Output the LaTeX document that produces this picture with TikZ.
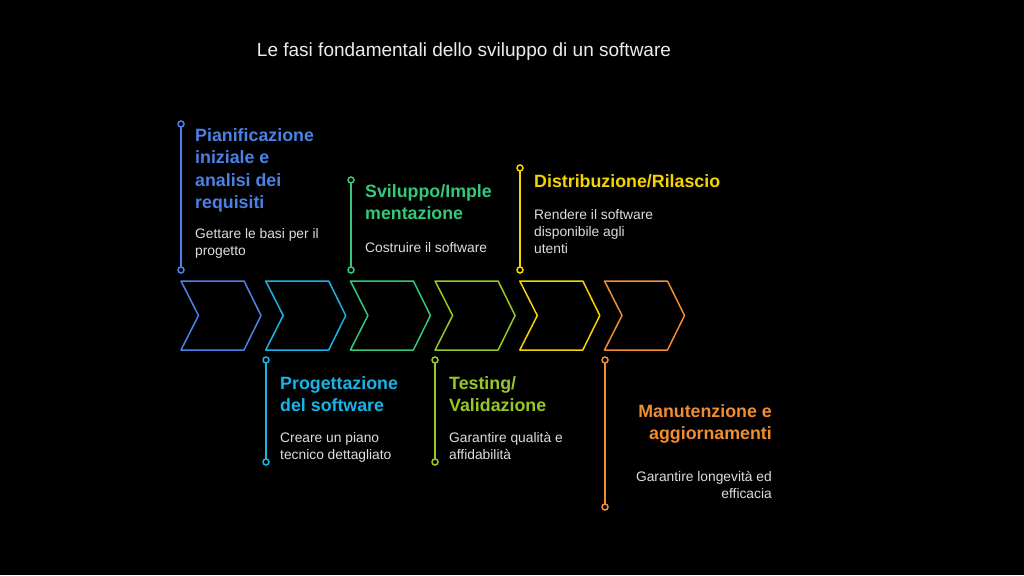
\documentclass[tikz,border=0pt]{standalone}
\usepackage{fontspec}
\setmainfont{Liberation Sans}

\definecolor{fblue}{RGB}{74,130,230}
\definecolor{fcyan}{RGB}{24,180,232}
\definecolor{fgreen}{RGB}{52,200,120}
\definecolor{flime}{RGB}{150,200,40}
\definecolor{fyellow}{RGB}{245,212,0}
\definecolor{forange}{RGB}{240,140,50}
\definecolor{descgray}{RGB}{222,222,222}
\definecolor{titlegray}{RGB}{236,236,236}

\tikzset{
  chev/.style={line width=1.5pt, line join=round},
  pinline/.style={line width=1.5pt},
  pinend/.style={line width=1.5pt, fill=black},
  head/.style={anchor=north west, inner sep=0pt, align=left,
    font=\fontsize{17.8}{22.5}\selectfont\bfseries},
  desc/.style={anchor=north west, inner sep=0pt, align=left, text=descgray,
    font=\fontsize{13.8}{17}\selectfont},
}

\begin{document}
\begin{tikzpicture}[x=1pt,y=-1pt]
  \fill[black] (0,0) rectangle (1024,575);
  \useasboundingbox (0,0) rectangle (1024,575);

  % title
  \node[font=\fontsize{19}{22}\selectfont, text=titlegray, anchor=base, inner sep=0pt]
    (title) at (464,56.5) {Le fasi fondamentali dello sviluppo di un software};

  % chevrons
  \foreach \i/\c in {0/fblue,1/fcyan,2/fgreen,3/flime,4/fyellow,5/forange}{
    \pgfmathsetmacro\xl{181+84.7*\i}
    \coordinate (ch\i) at (\xl,281);
    \draw[chev, draw=\c] (ch\i) -- ++(63,0) -- ++(17,34.5) -- ++(-17,34.5)
      -- ++(-63,0) -- ++(17.5,-34.5) -- cycle;
  }

  % pins
  \foreach \n/\x/\ya/\yb/\c in {1/181/124/270/fblue, 3/351/180/270/fgreen, 5/520/168/270/fyellow,
      2/266/360/462/fcyan, 4/435/360/462/flime, 6/605/360/507/forange}{
    \coordinate (pa\n) at (\x,\ya);
    \coordinate (pb\n) at (\x,\yb);
    \draw[pinline, draw=\c] (pa\n) -- (pb\n);
    \draw[pinend, draw=\c] (pa\n) circle (3);
    \draw[pinend, draw=\c] (pb\n) circle (3);
  }

  % labels above
  \node[head, text=fblue] (h1) at (195,128.2) {Pianificazione\\iniziale e\\analisi dei\\requisiti};
  \node[desc] (d1) at (195,228) {Gettare le basi per il\\progetto};

  \node[head, text=fgreen] (h3) at (365,184.2) {Sviluppo/Imple\\mentazione};
  \node[desc] (d3) at (365,242) {Costruire il software};

  \node[head, text=fyellow] (h5) at (534,174.2) {Distribuzione/Rilascio};
  \node[desc] (d5) at (534,209) {Rendere il software\\disponibile agli\\utenti};

  % labels below
  \node[head, text=fcyan] (h2) at (280,376.2) {Progettazione\\del software};
  \node[desc] (d2) at (280,432) {Creare un piano\\tecnico dettagliato};

  \node[head, text=flime] (h4) at (449,376.2) {Testing/\\Validazione};
  \node[desc] (d4) at (449,432) {Garantire qualità e\\affidabilità};

  \node[head, text=forange, anchor=north east, align=right] (h6) at (772,404.2) {Manutenzione e\\aggiornamenti};
  \node[desc, anchor=north east, align=right] (d6) at (772,471) {Garantire longevità ed\\efficacia};
\end{tikzpicture}
\end{document}
